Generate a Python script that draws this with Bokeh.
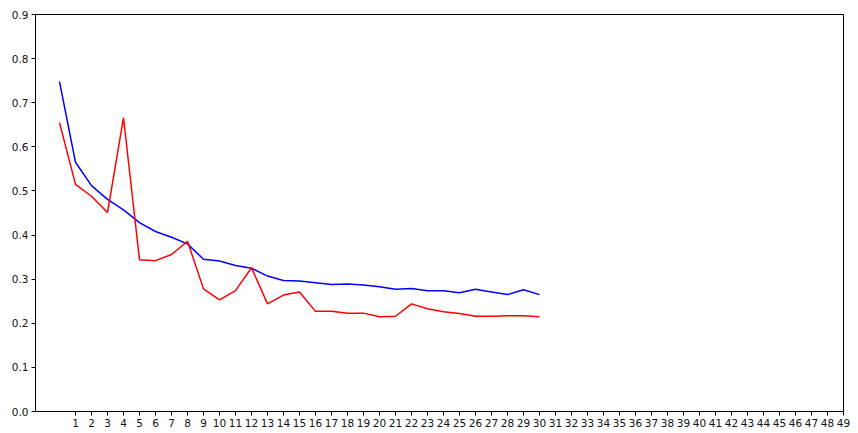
from bokeh.plotting import figure
from bokeh.embed import file_html
from bokeh.resources import INLINE
from bokeh.models import FixedTicker, PrintfTickFormatter, Range1d

epochs = list(range(31))
blue_vals = [0.748, 0.565, 0.512, 0.481, 0.457, 0.428, 0.408, 0.395, 0.380, 0.345,
             0.341, 0.331, 0.325, 0.307, 0.297, 0.296, 0.292, 0.288, 0.289, 0.287,
             0.283, 0.277, 0.279, 0.274, 0.274, 0.269, 0.277, 0.271, 0.265, 0.276, 0.265]
red_vals = [0.655, 0.515, 0.488, 0.451, 0.666, 0.344, 0.342, 0.356, 0.386, 0.278,
            0.253, 0.274, 0.326, 0.244, 0.264, 0.271, 0.227, 0.227, 0.223, 0.223,
            0.215, 0.216, 0.244, 0.233, 0.226, 0.222, 0.216, 0.216, 0.217, 0.217, 0.215]
x_ticks = list(range(1, 50))
y_ticks = [0.0, 0.1, 0.2, 0.3, 0.4, 0.5, 0.6, 0.7, 0.8, 0.9]

p = figure(width=850, height=433, output_backend="svg", toolbar_location=None,
           x_range=Range1d(-1.5, 49), y_range=Range1d(0, 0.9),
           min_border_left=35, min_border_right=7, min_border_top=14, min_border_bottom=22)

p.line(epochs, blue_vals, line_color="blue", line_width=1.5)
p.line(epochs, red_vals, line_color="red", line_width=1.5)

p.grid.visible = False
p.outline_line_color = "black"
p.outline_line_width = 1
p.outline_line_alpha = 1

p.xaxis.ticker = FixedTicker(ticks=x_ticks)
p.yaxis.ticker = FixedTicker(ticks=y_ticks)
p.yaxis.formatter = PrintfTickFormatter(format="%.1f")
for ax in (p.xaxis[0], p.yaxis[0]):
    ax.axis_line_color = "black"
    ax.major_tick_line_color = "black"
    ax.minor_tick_line_color = None
    ax.major_tick_in = 0
    ax.major_tick_out = 4
    ax.major_label_standoff = 3
    ax.major_label_text_font = "DejaVu Sans"
    ax.major_label_text_font_size = "10.5px"
    ax.major_label_text_color = "#111111"

open("out.html", "w").write(file_html(p, INLINE))
